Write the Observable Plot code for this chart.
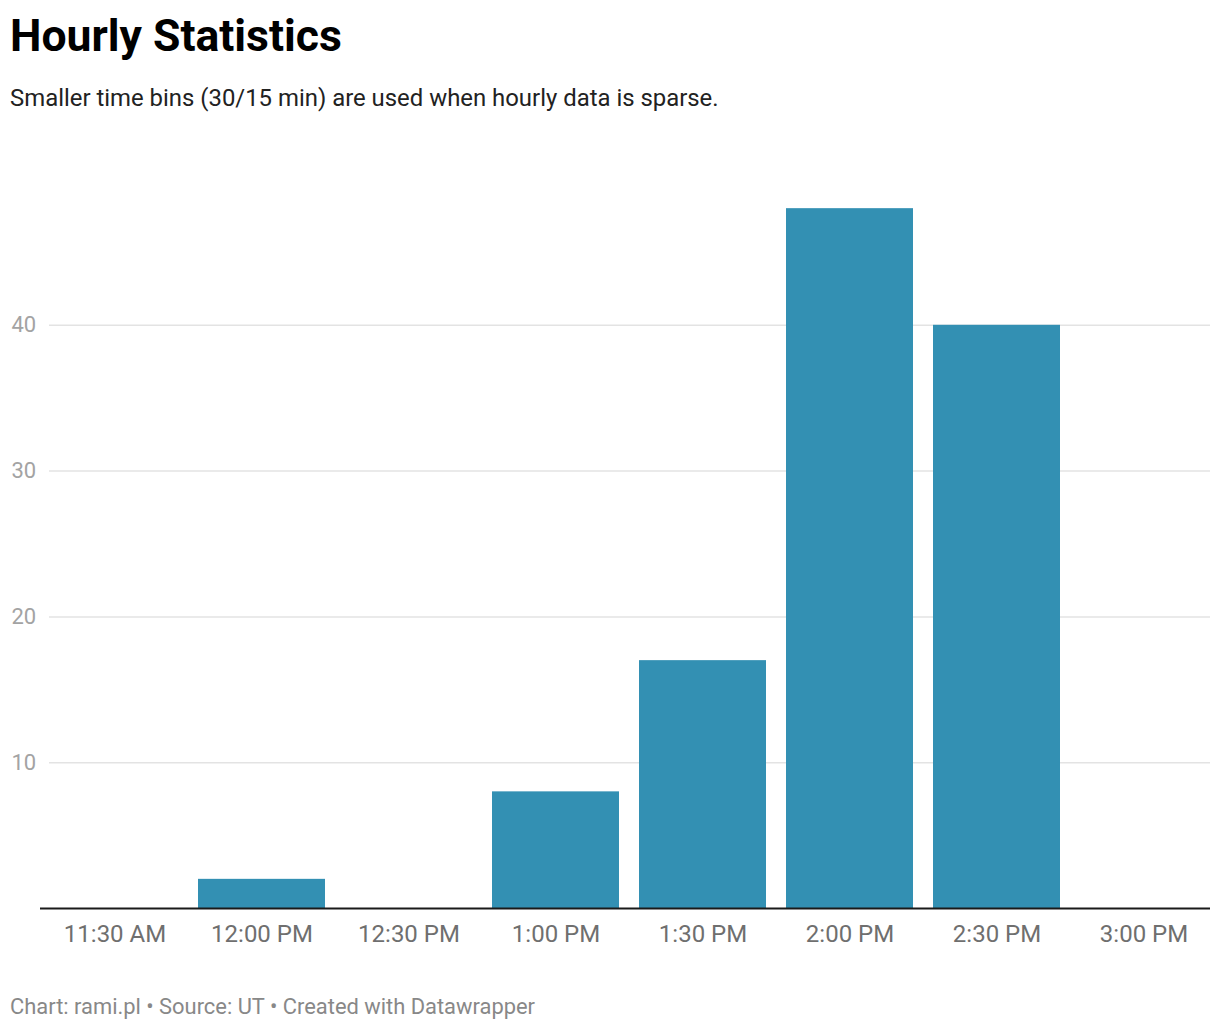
<!DOCTYPE html>
<html><head><meta charset="utf-8">
<script src="https://cdn.jsdelivr.net/npm/d3@7"></script>
<script src="https://cdn.jsdelivr.net/npm/@observablehq/plot@0.6"></script>
<style>
body{margin:0;background:#fff;font-family:Roboto,"Noto Sans",sans-serif;width:1220px;height:1030px;position:relative;overflow:hidden}
#title{position:absolute;left:10px;top:8px;font-size:44.5px;font-weight:700;color:#000;line-height:56px}
#sub{position:absolute;left:10px;top:83px;font-size:23.9px;color:#222;line-height:30px}
#chart{position:absolute;left:0;top:130px}
#foot{position:absolute;left:10px;top:993px;font-size:21.9px;color:#888;line-height:28px}
</style></head>
<body>
<div id="title">Hourly Statistics</div>
<div id="sub">Smaller time bins (30/15 min) are used when hourly data is sparse.</div>
<div id="chart"></div>
<div id="foot">Chart: rami.pl • Source: UT • Created with Datawrapper</div>
<script>
const times = ["11:30 AM","12:00 PM","12:30 PM","1:00 PM","1:30 PM","2:00 PM","2:30 PM","3:00 PM"];
const counts = [0, 2, 0, 8, 17, 48, 40, 0];
const yTicks = [10, 20, 30, 40];

const data = times.map((t, i) => ({time: t, count: counts[i]}));

const chart = Plot.plot({
  width: 1220,
  height: 838,
  marginLeft: 39,
  marginRight: 0,
  marginTop: 49,
  marginBottom: 60,
  style: {fontFamily: "Roboto, sans-serif", background: "transparent"},
  x: {domain: times, paddingInner: 0.133, paddingOuter: 0.067, axis: null},
  y: {domain: [0, 50], axis: null},
  marks: [
    Plot.ruleY(yTicks, {stroke: "#e3e3e3", strokeWidth: 1.5, insetLeft: 10, insetRight: 10}),
    Plot.text(yTicks, {y: d => d, text: d => String(d), frameAnchor: "left", dx: -28, textAnchor: "start", fontSize: 22, fill: "#a3a3a3"}),
    Plot.barY(data, {x: "time", y: "count", fill: "#3390b3"}),
    Plot.ruleY([0], {stroke: "#1a1a1a", strokeWidth: 2, insetLeft: 1, insetRight: 10}),
    Plot.text(times, {x: d => d, text: d => d, frameAnchor: "bottom", dy: 33, fontSize: 24, fill: "#6f6f6f"})
  ]
});
document.getElementById("chart").appendChild(chart);
</script>
</body></html>
